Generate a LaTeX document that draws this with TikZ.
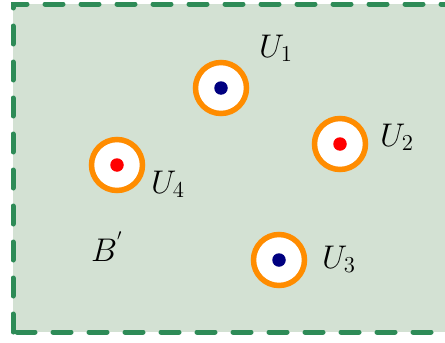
\documentclass[tikz,border=0pt]{standalone}
\usepackage{graphicx}
\definecolor{bgfill}{RGB}{211,225,211}
\definecolor{frame}{RGB}{46,139,87}
\definecolor{ringc}{RGB}{255,140,0}
\definecolor{navyc}{RGB}{0,0,128}
\definecolor{redc}{RGB}{255,0,0}
\newcommand{\biglab}[1]{\scalebox{1.58}{\fontsize{20}{24}\selectfont #1}}
\begin{document}
\begin{tikzpicture}[x=1pt,y=-1pt,
  ring/.style={circle,draw=ringc,fill=white,line width=5.5pt,minimum size=51pt,inner sep=0pt},
  dotb/.style={circle,fill=navyc,minimum size=13.5pt,inner sep=0pt},
  dotr/.style={circle,fill=redc,minimum size=13.5pt,inner sep=0pt},
  lab/.style={anchor=base west,inner sep=0pt}]
\useasboundingbox (0,0) rectangle (445,343);
\fill[white] (0,0) rectangle (445,343);
\draw[fill=bgfill,draw=frame,line width=5pt,line cap=round,dash pattern=on 18pt off 18pt] (13,332) -- (13,4) -- (470,4) -- (470,332) -- cycle;
\node[ring] (u1) at (221,88) {};
\node[dotb] (d1) at (u1) {};
\node[ring] (u2) at (340,144) {};
\node[dotr] (d2) at (u2) {};
\node[ring] (u3) at (279,260) {};
\node[dotb] (d3) at (u3) {};
\node[ring] (u4) at (117,165) {};
\node[dotr] (d4) at (u4) {};
\node[lab] (l1) at (259,57) {\biglab{$U_1$}};
\node[lab] (l2) at (380,146) {\biglab{$U_2$}};
\node[lab] (l3) at (322,268) {\biglab{$U_3$}};
\node[lab] (l4) at (151,193) {\biglab{$U_4$}};
\node[lab] (lb) at (91,261) {\biglab{$B^{'}$}};
\end{tikzpicture}
\end{document}
